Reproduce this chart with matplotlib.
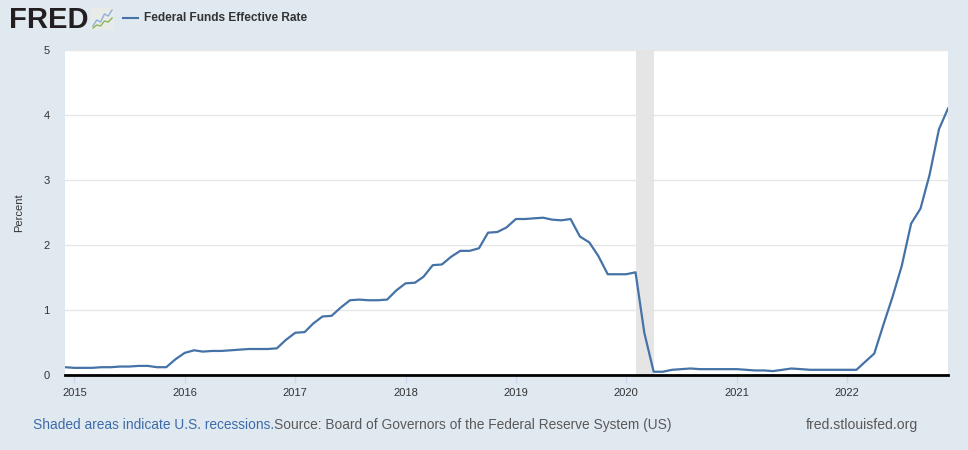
import datetime
import pandas as pd
import matplotlib
matplotlib.use('Agg')
import matplotlib.pyplot as plt
import matplotlib.dates as mdates

plt.rcParams['font.family'] = ['Liberation Sans', 'DejaVu Sans']

# monthly Federal Funds Effective Rate, Dec 2014 - Dec 2022
dates = pd.date_range('2014-12-01', '2022-12-01', freq='MS')
rates = [
    0.12,
    0.11, 0.11, 0.11, 0.12, 0.12, 0.13, 0.13, 0.14, 0.14, 0.12, 0.12, 0.24,
    0.34, 0.38, 0.36, 0.37, 0.37, 0.38, 0.39, 0.40, 0.40, 0.40, 0.41, 0.54,
    0.65, 0.66, 0.79, 0.90, 0.91, 1.04, 1.15, 1.16, 1.15, 1.15, 1.16, 1.30,
    1.41, 1.42, 1.51, 1.69, 1.70, 1.82, 1.91, 1.91, 1.95, 2.19, 2.20, 2.27,
    2.40, 2.40, 2.41, 2.42, 2.39, 2.38, 2.40, 2.13, 2.04, 1.83, 1.55, 1.55,
    1.55, 1.58, 0.65, 0.05, 0.05, 0.08, 0.09, 0.10, 0.09, 0.09, 0.09, 0.09,
    0.09, 0.08, 0.07, 0.07, 0.06, 0.08, 0.10, 0.09, 0.08, 0.08, 0.08, 0.08,
    0.08, 0.08, 0.20, 0.33, 0.77, 1.21, 1.68, 2.33, 2.56, 3.08, 3.78, 4.10,
]
recession_start = datetime.datetime(2020, 2, 1)
recession_end = datetime.datetime(2020, 4, 1)
year_ticks = [datetime.datetime(y, 1, 1) for y in range(2015, 2023)]
y_ticks = [0, 1, 2, 3, 4, 5]

# logo sparkline values (decoration only)
logo_blue = [0.2, 0.5, 0.4, 0.8, 0.7, 1.0]
logo_green = [0.1, 0.25, 0.2, 0.45, 0.4, 0.6]

bg = '#e1e9f0'
line_color = '#4572a7'

fig = plt.figure(figsize=(9.68, 4.5), dpi=100, facecolor=bg)
ax = fig.add_axes([65 / 968, 75 / 450, 883 / 968, 325 / 450])
ax.set_facecolor('white')

ax.axvspan(recession_start, recession_end, color='#e5e5e5', lw=0, zorder=1)
ax.plot(dates, rates, color=line_color, lw=1.6, zorder=3)

ax.set_xlim(dates[0], dates[-1])
ax.set_ylim(0, 5)
ax.set_yticks(y_ticks)
ax.set_xticks(year_ticks)
ax.xaxis.set_major_formatter(mdates.DateFormatter('%Y'))
ax.grid(axis='y', color='#e6e6e6', lw=1, zorder=0)
ax.set_axisbelow(True)

for side in ['top', 'right', 'left']:
    ax.spines[side].set_visible(False)
ax.spines['bottom'].set_color('black')
ax.spines['bottom'].set_linewidth(2)
ax.spines['bottom'].set_zorder(4)

ax.tick_params(axis='y', length=0, pad=11, labelsize=8, labelcolor='#333333')
ax.tick_params(axis='x', length=6, width=1, color='#ccd6eb', pad=3,
               labelsize=8, labelcolor='#333333')
ax.set_ylabel('Percent', fontsize=8, color='#333333', labelpad=14)

# header: FRED logo text + legend entry
fig.text(9 / 968, 1 - 20 / 450, 'FRED', fontsize=21, fontweight='bold',
         color='#231f20', va='center', ha='left')
logo = fig.add_axes([91 / 968, 1 - 30 / 450, 23 / 968, 22 / 450])
logo.set_facecolor('#e8ebe8')
logo.plot(range(len(logo_blue)), logo_blue, color='#8fb1d6', lw=1)
logo.plot(range(len(logo_green)), logo_green, color='#8db65a', lw=1)
logo.set_xlim(-0.5, len(logo_blue) - 0.5)
logo.set_ylim(0, 1.1)
logo.set_xticks([])
logo.set_yticks([])
for s in logo.spines.values():
    s.set_visible(False)

fig.add_artist(plt.Line2D([123 / 968, 138 / 968], [1 - 18 / 450, 1 - 18 / 450],
                          color=line_color, lw=1.5))
fig.text(144 / 968, 1 - 18 / 450, 'Federal Funds Effective Rate', fontsize=8.6,
         fontweight='bold', color='#333333', va='center', ha='left')

# footer
t1 = fig.text(33 / 968, 1 - 425 / 450, 'Shaded areas indicate U.S. recessions.',
              fontsize=9.95, color='#3c6aa8', va='center', ha='left')
fig.canvas.draw()
bb = t1.get_window_extent()
fig.text(bb.x1 / 968, 1 - 425 / 450,
         'Source: Board of Governors of the Federal Reserve System (US)',
         fontsize=9.95, color='#595959', va='center', ha='left')
fig.text(806 / 968, 1 - 425 / 450, 'fred.stlouisfed.org', fontsize=10.1,
         color='#595959', va='center', ha='left')

fig.savefig('out.png', dpi=100, facecolor=bg)
